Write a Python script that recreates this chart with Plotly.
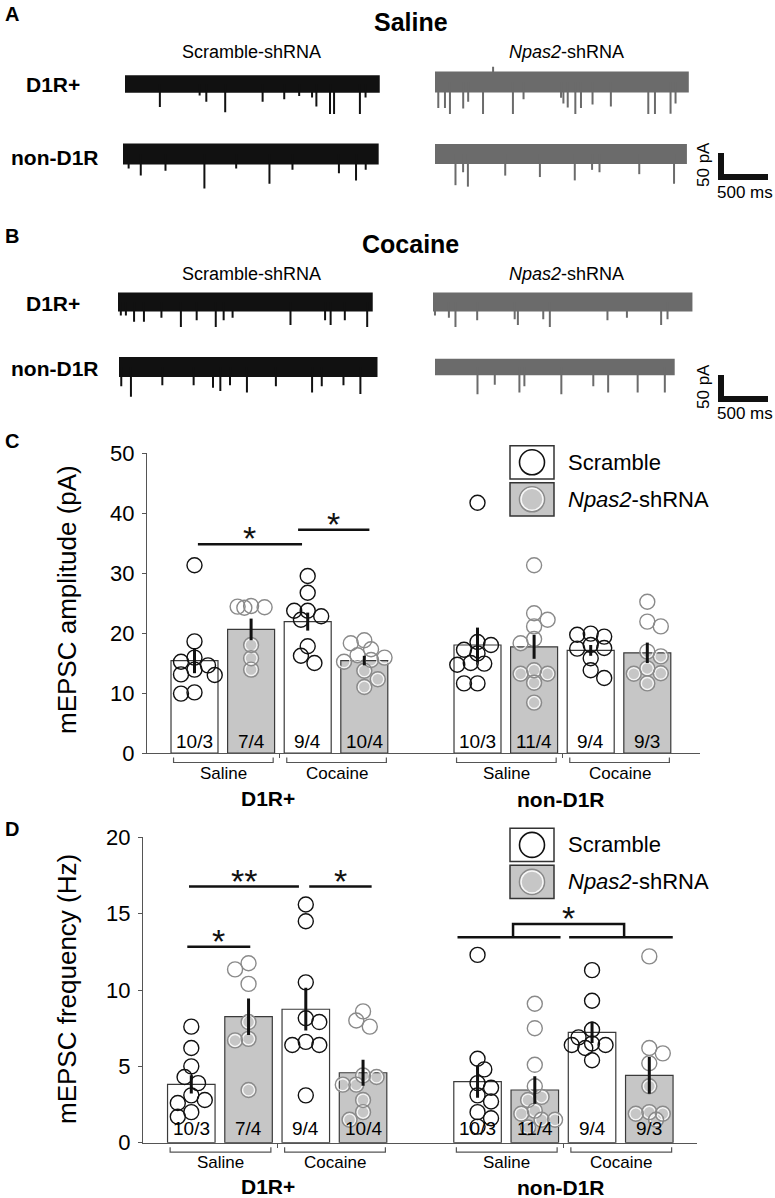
import plotly.graph_objects as go

W, H = 775, 1198
FONT = "Liberation Sans, Arial, Helvetica, sans-serif"

# ---------------------------------------------------------------- data
# bar groups: D1R+ (saline, cocaine) | non-D1R (saline, cocaine); scramble / Npas2 alternating
bar_pos = [0, 1, 2, 3, 5, 6, 7, 8]
is_npas2 = [0, 1, 0, 1, 0, 1, 0, 1]
cell_counts = ["10/3", "7/4", "9/4", "10/4", "10/3", "11/4", "9/4", "9/3"]
group_names = ["Saline", "Cocaine", "Saline", "Cocaine"]
cell_types = ["D1R+", "non-D1R"]

amp_mean = [15.4, 20.6, 21.9, 15.4, 18.0, 17.7, 17.1, 16.7]
amp_sem = [2.1, 1.8, 1.5, 0.8, 2.9, 2.0, 0.9, 1.7]
amp_cells = [
    [31.3, 18.6, 15.9, 15.2, 14.6, 13.9, 13.1, 13.0, 10.1, 9.9],
    [24.5, 24.3, 24.2, 24.4, 18.0, 15.8, 13.9],
    [29.5, 26.7, 23.7, 23.7, 22.8, 22.2, 17.8, 16.2, 15.0],
    [18.8, 18.3, 17.3, 16.3, 15.9, 15.5, 15.2, 13.7, 12.3, 11.0],
    [41.7, 18.5, 18.0, 17.2, 16.6, 15.0, 14.9, 14.7, 11.6, 11.6],
    [31.3, 23.3, 22.2, 21.1, 19.0, 18.3, 13.8, 13.2, 13.2, 11.7, 8.4],
    [19.9, 19.7, 19.4, 18.0, 17.5, 17.4, 15.8, 13.8, 12.5],
    [25.2, 21.9, 21.1, 16.9, 16.1, 14.1, 13.3, 13.2, 11.6],
]

freq_mean = [3.82, 8.25, 8.74, 4.58, 4.0, 3.45, 7.23, 4.41]
freq_sem = [0.6, 1.2, 1.4, 0.85, 1.05, 0.9, 0.7, 1.2]
freq_cells = [
    [7.6, 6.2, 5.0, 4.3, 3.9, 3.1, 2.8, 2.6, 2.0, 1.7],
    [11.75, 11.35, 10.4, 7.9, 6.8, 6.7, 3.45],
    [15.6, 14.5, 10.5, 8.15, 7.9, 6.6, 6.4, 6.4, 3.1],
    [8.6, 8.0, 7.6, 4.4, 4.3, 3.8, 3.8, 2.8, 2.0, 1.5],
    [12.3, 5.5, 4.8, 3.9, 3.6, 3.1, 2.7, 2.0, 1.6, 1.05],
    [9.1, 7.5, 5.1, 3.7, 3.0, 2.8, 2.1, 1.9, 1.5, 1.5, 1.0],
    [11.3, 9.3, 7.4, 6.9, 6.5, 6.4, 6.4, 6.2, 5.4],
    [12.2, 6.2, 5.85, 5.2, 3.7, 2.0, 1.9, 1.9, 1.5],
]

# significance bars: (from, to, level, label)
sig_amp = [(0.06, 1.9, 34.8, "*"), (1.83, 3.09, 37.2, "*")]
sig_freq = [(-0.04, 1.88, 16.77, "**"), (2.06, 3.15, 16.77, "*"), (-0.07, 1.03, 12.84, "*")]
sig_freq_nond1 = [(4.65, 6.45, 13.45), (6.6, 8.41, 13.45)]
sig_freq_nond1_bracket = (5.62, 7.56, 14.32, "*")

# example mEPSC recordings: event times (ms) and peak currents (pA)
a_scr_d1_t = [371, 794, 865, 1066, 1464, 1694, 1853, 1990, 2036, 2181, 2224, 2499, 2559]
a_scr_d1_i = [-48, -24, -37, -59, -37, -32, -25, -28, -47, -83, -69, -83, -28]
a_npas_d1_t = [35, 106, 159, 300, 353, 511, 618, 829, 942, 1341, 1366, 1412, 1493, 1553, 1676, 1871,
               2269, 2340, 2506, 2559]
a_npas_d1_i = [-54, -54, -81, -55, -41, -94, 32, -76, -36, -33, -45, -53, -88, -54, -47, -51,
               -100, -77, -66, -45]
a_scr_non_t = [60, 189, 452, 866, 1204, 1558, 1803, 2297, 2479, 2582]
a_scr_non_i = [-30, -45, -35, -72, -30, -62, -33, -40, -55, -33]
a_npas_non_t = [218, 299, 350, 747, 1116, 1487, 1671, 1750, 2173, 2543]
a_npas_non_i = [-65, -38, -68, -45, -48, -55, -33, -38, -42, -62]
b_scr_d1_t = [30, 84, 171, 276, 462, 669, 837, 1040, 1124, 1219, 1835, 2203, 2262, 2413, 2651]
b_scr_d1_i = [-28, -28, -41, -41, -33, -55, -38, -68, -38, -33, -48, -38, -48, -38, -61]
b_npas_d1_t = [21, 169, 239, 470, 869, 903, 1173, 1243, 1856, 2063, 2427, 2495]
b_npas_d1_i = [-28, -33, -74, -38, -36, -48, -36, -68, -38, -33, -48, -36]
b_scr_non_t = [24, 127, 461, 794, 1000, 1078, 1181, 1361, 1669, 2054, 2157, 2388, 2568]
b_scr_non_i = [-40, -62, -38, -38, -43, -50, -38, -53, -40, -53, -40, -38, -56]
b_npas_non_t = [452, 636, 898, 951, 1344, 1684, 1842, 2156, 2445]
b_npas_non_i = [-57, -37, -53, -40, -57, -40, -53, -53, -53]

trace_events = [(a_scr_d1_t, a_scr_d1_i), (a_npas_d1_t, a_npas_d1_i),
                (a_scr_non_t, a_scr_non_i), (a_npas_non_t, a_npas_non_i),
                (b_scr_d1_t, b_scr_d1_i), (b_npas_d1_t, b_npas_d1_i),
                (b_scr_non_t, b_scr_non_i), (b_npas_non_t, b_npas_non_i)]
trace_duration = [2710, 2700, 2720, 2680, 2710, 2760, 2750, 2550]   # ms
trace_noise = [18, 22, 22, 21, 20, 20, 21, 17]                       # pA, half band
trace_npas2 = [0, 1, 0, 1, 0, 1, 0, 1]
scale_ms, scale_pa = 500, 50

# ---------------------------------------------------------------- layout helpers
SX = 47 / 500.0   # px per ms
SY = 24 / 50.0    # px per pA
trace_origin_px = [(125, 84), (435, 82), (123, 154), (435, 154),
                   (118, 302), (433, 302), (119, 367), (435, 367)]
scale_origin_px = [(721, 177), (721, 399)]

INK = "#111111"
TRACE_COL = [INK, "#6b6b6b"]
BAR_FILL = ["white", "#c6c6c6"]
DOT_COL = [INK, "#8a8a8a"]
AXC = "#555555"


def px(x):
    return min(max(x / W, 0), 1)


def py(y):
    return min(max(1 - y / H, 0), 1)


def swarm(vals, ppu_y, diam=15.0):
    # simple beeswarm, returns x offsets in pixels
    order = sorted(range(len(vals)), key=lambda i: -vals[i])
    placed, offs = [], [0.0] * len(vals)
    step = diam * 0.45
    for n, i in enumerate(order):
        y = vals[i] * ppu_y
        sgn = 1 if n % 2 == 0 else -1
        cands = [0, sgn * step, -sgn * step, sgn * 2 * step, -sgn * 2 * step, sgn * 3 * step, -sgn * 3 * step]
        best, best_d, best_c = None, -1, 0
        for c in cands:
            d = min([((c - a) ** 2 + (y - b) ** 2) ** 0.5 for a, b in placed] or [1e9])
            if d >= 0.72 * diam:
                best = c
                break
            if d > best_d:
                best_d, best_c = d, c
        if best is None:
            best = best_c
        placed.append((best, y))
        offs[i] = best
    return offs


fig = go.Figure()
axes = {}
shapes = []
annos = []


def text(t, x, y, size=17, bold=False, angle=0, xanchor="center"):
    if bold:
        t = "<b>%s</b>" % t
    annos.append(dict(text=t, x=x / W, y=1 - y / H, xref="paper", yref="paper", showarrow=False,
                      font=dict(size=size, color="black", family=FONT), textangle=angle,
                      xanchor=xanchor, yanchor="middle"))


# ---------------------------------------------------------------- panels A, B: traces
for k, (ts, cur) in enumerate(trace_events):
    n = k + 3
    x0, yc = trace_origin_px[k]
    T = trace_duration[k]
    axes["xaxis%d" % n] = dict(domain=[px(x0 - 2), px(x0 + T * SX + 2)], range=[-2 / SX, T + 2 / SX],
                               visible=False, anchor="y%d" % n, fixedrange=True)
    axes["yaxis%d" % n] = dict(domain=[py(yc + 60), py(yc - 40)], range=[-60 / SY, 40 / SY],
                               visible=False, anchor="x%d" % n, fixedrange=True)
    col = TRACE_COL[trace_npas2[k]]
    nz = trace_noise[k]
    fig.add_trace(go.Scatter(x=[0, T, T, 0, 0], y=[-nz, -nz, nz, nz, -nz], fill="toself", fillcolor=col,
                             mode="lines", line=dict(width=0, color=col), hoverinfo="skip",
                             xaxis="x%d" % n, yaxis="y%d" % n))
    sx, sy = [], []
    for t, i in zip(ts, cur):
        sx += [t, t, None]
        sy += [0, i, None]
    fig.add_trace(go.Scatter(x=sx, y=sy, mode="lines", line=dict(width=2, color=col),
                             hoverinfo="skip", xaxis="x%d" % n, yaxis="y%d" % n))

for k, (ox, oy) in enumerate(scale_origin_px):
    n = 11 + k
    axes["xaxis%d" % n] = dict(domain=[px(ox - 10), px(ox + 52)], range=[-10 / SX, 52 / SX],
                               visible=False, anchor="y%d" % n, fixedrange=True)
    axes["yaxis%d" % n] = dict(domain=[py(oy + 10), py(oy - 35)], range=[-10 / SY, 35 / SY],
                               visible=False, anchor="x%d" % n, fixedrange=True)
    fig.add_trace(go.Scatter(x=[0, 0, scale_ms], y=[scale_pa, 0, 0], mode="lines",
                             line=dict(width=6, color=INK), hoverinfo="skip",
                             xaxis="x%d" % n, yaxis="y%d" % n))
    text("%d pA" % scale_pa, ox - 18, oy - 12, size=17, angle=-90)
    text("%d ms" % scale_ms, ox + 24, oy + 15, size=17)

for yoff, letter, title in [(0, "A", "Saline"), (222, "B", "Cocaine")]:
    text(letter, 3, 14 + yoff, size=20, bold=True, xanchor="left")
    text(title, 411, 22 + yoff, size=25, bold=True)
    text("Scramble-shRNA", 251, 52 + yoff, size=18)
    text("<i>Npas2</i>-shRNA", 566, 52 + yoff, size=18)
text("D1R+", 53, 85, size=21, bold=True)
text("non-D1R", 55, 157, size=21, bold=True)
text("D1R+", 53, 303, size=21, bold=True)
text("non-D1R", 55, 368, size=21, bold=True)

# ---------------------------------------------------------------- panels C, D: bar charts
panels = [
    dict(xa="x", ya="y", means=amp_mean, sems=amp_sem, cells=amp_cells, ymax=50, dtick=10,
         x_px=(147, 700), y_px=(453, 753), unit=56.6, first=194.5, sig=sig_amp,
         title="mEPSC amplitude (pA)", title_y=600, letter="C", letter_y=441,
         legend_y=445.7, group_y=773, type_y=798, count_shift=12),
    dict(xa="x2", ya="y2", means=freq_mean, sems=freq_sem, cells=freq_cells, ymax=20, dtick=5,
         x_px=(143, 697), y_px=(837.3, 1142.7), unit=57.25, first=191.3, sig=sig_freq,
         title="mEPSC frequency (Hz)", title_y=989, letter="D", letter_y=829,
         legend_y=828.3, group_y=1162, type_y=1186, count_shift=14),
]

for p in panels:
    xa, ya = p["xa"], p["ya"]
    xkey = "xaxis" + xa[1:]
    ykey = "yaxis" + ya[1:]
    x0, x1 = p["x_px"]
    ytop, ybot = p["y_px"]
    lo = (x0 - p["first"]) / p["unit"]
    hi = (x1 - p["first"]) / p["unit"]
    ppu_y = (ybot - ytop) / p["ymax"]
    axes[xkey] = dict(domain=[px(x0), px(x1)], range=[lo, hi], anchor=ya, showline=True, linecolor=AXC,
                      linewidth=1.3, showgrid=False, zeroline=False, tickvals=[1.5, 6.5],
                      ticks="outside", ticklen=4, tickcolor=AXC, showticklabels=False, fixedrange=True)
    axes[ykey] = dict(domain=[py(ybot), py(ytop)], range=[0, p["ymax"]], anchor=xa, showline=True,
                      linecolor=AXC, linewidth=1.3, showgrid=False, zeroline=False,
                      tickvals=list(range(0, p["ymax"] + 1, p["dtick"])), ticks="outside",
                      ticklen=4, tickwidth=1.2, tickcolor=AXC,
                      ticklabelstandoff=3, tickfont=dict(size=22, color="black", family=FONT),
                      fixedrange=True)

    fig.add_trace(go.Bar(x=bar_pos, y=p["means"], width=0.83, xaxis=xa, yaxis=ya,
                         marker=dict(color=[BAR_FILL[g] for g in is_npas2],
                                     line=dict(color="#3a3a3a", width=1.2)), hoverinfo="skip"))
    for g in (0, 1):
        xs, ys = [], []
        for pos, npas, vals in zip(bar_pos, is_npas2, p["cells"]):
            if npas != g:
                continue
            offs = swarm(vals, ppu_y)
            xs += [pos + o / p["unit"] for o in offs]
            ys += vals
        if g == 1:
            fig.add_trace(go.Scatter(x=xs, y=ys, mode="markers", xaxis=xa, yaxis=ya, hoverinfo="skip",
                                     marker=dict(size=12, color="rgba(0,0,0,0)",
                                                 line=dict(color="rgba(255,255,255,0.8)", width=1.5))))
        fig.add_trace(go.Scatter(x=xs, y=ys, mode="markers", xaxis=xa, yaxis=ya, hoverinfo="skip",
                                 marker=dict(size=15, color="rgba(0,0,0,0)",
                                             line=dict(color=DOT_COL[g], width=1.4))))
    fig.add_trace(go.Scatter(x=bar_pos, y=p["means"], mode="markers", xaxis=xa, yaxis=ya, hoverinfo="skip",
                             marker=dict(size=1, color="rgba(0,0,0,0)"),
                             error_y=dict(type="data", array=p["sems"], thickness=3, width=0, color=INK)))

    # n / animals inside bars
    for pos, c in zip(bar_pos, cell_counts):
        annos.append(dict(text=c, x=pos, y=0, xref=xa, yref=ya, showarrow=False, yanchor="middle",
                          yshift=p["count_shift"], font=dict(size=19, color="black", family=FONT)))

    # significance
    for a, b, lvl, lab in p["sig"]:
        shapes.append(dict(type="line", xref=xa, yref=ya, x0=a, x1=b, y0=lvl, y1=lvl,
                           line=dict(color=INK, width=2.5)))
        annos.append(dict(text=lab, x=(a + b) / 2, y=lvl, xref=xa, yref=ya, showarrow=False,
                          yanchor="bottom", yshift=-15, font=dict(size=34, color=INK, family=FONT)))

    # group brackets under the axis
    for gi in range(4):
        pa, pb = bar_pos[2 * gi], bar_pos[2 * gi + 1]
        ya_ = py(ybot + 4.5)
        yb_ = py(ybot + 9.5)
        shapes.append(dict(type="path", xref=xa, yref="paper",
                           path="M %f,%f L %f,%f L %f,%f L %f,%f" % (pa - 0.37, ya_, pa - 0.37, yb_,
                                                                     pb + 0.39, yb_, pb + 0.39, ya_),
                           line=dict(color=AXC, width=1.2)))
        annos.append(dict(text=group_names[gi], x=(pa + pb) / 2 + 0.01, y=py(p["group_y"]), xref=xa,
                          yref="paper", showarrow=False, yanchor="middle",
                          font=dict(size=17, color="black", family=FONT)))
    text(cell_types[0], 268, p["type_y"], size=21, bold=True)
    text(cell_types[1], 561, p["type_y"] + 1, size=21, bold=True)

    text(p["title"], 67, p["title_y"], size=26, angle=-90)
    text(p["letter"], 3, p["letter_y"], size=20, bold=True, xanchor="left")

    # legend
    ly = p["legend_y"]
    for r in range(2):
        t0 = ly + r * 37
        shapes.append(dict(type="rect", xref="paper", yref="paper", x0=px(510), x1=px(554),
                           y0=py(t0 + 33.3), y1=py(t0), fillcolor=BAR_FILL[r],
                           line=dict(color="#333333", width=1.5)))
        cx, cy = 532, t0 + 16.6
        shapes.append(dict(type="circle", xref="paper", yref="paper", x0=px(cx - 12.5), x1=px(cx + 12.5),
                           y0=py(cy + 12.5), y1=py(cy - 12.5), line=dict(color=DOT_COL[r], width=1.6)))
        if r == 1:
            shapes.append(dict(type="circle", xref="paper", yref="paper", x0=px(cx - 11), x1=px(cx + 11),
                               y0=py(cy + 11), y1=py(cy - 11),
                               line=dict(color="rgba(255,255,255,0.85)", width=1.5)))
    text("Scramble", 566, ly + 16.5, size=22, xanchor="left")
    text("<i>Npas2</i>-shRNA", 566, ly + 53.5, size=22, xanchor="left")

# non-D1R frequency comparison bracket
a, b, top, lab = sig_freq_nond1_bracket
for a0, b0, lvl in sig_freq_nond1:
    shapes.append(dict(type="line", xref="x2", yref="y2", x0=a0, x1=b0, y0=lvl, y1=lvl,
                       line=dict(color=INK, width=2.5)))
low = sig_freq_nond1[0][2]
shapes.append(dict(type="path", xref="x2", yref="y2",
                   path="M %f,%f L %f,%f L %f,%f L %f,%f" % (a, low, a, top, b, top, b, low),
                   line=dict(color=INK, width=2.5)))
annos.append(dict(text=lab, x=(a + b) / 2, y=top, xref="x2", yref="y2", showarrow=False,
                  yanchor="bottom", yshift=-15, font=dict(size=34, color=INK, family=FONT)))

fig.update_layout(
    width=W, height=H, margin=dict(l=0, r=0, t=0, b=0, pad=0, autoexpand=False),
    paper_bgcolor="white", plot_bgcolor="white",
    font=dict(family=FONT, color="black"),
    showlegend=False, shapes=shapes, annotations=annos, hovermode=False,
    **axes
)

fig.write_html("out.html", config={"displayModeBar": False},
               post_script="document.body.style.margin='0px';document.body.style.overflow='hidden';")
